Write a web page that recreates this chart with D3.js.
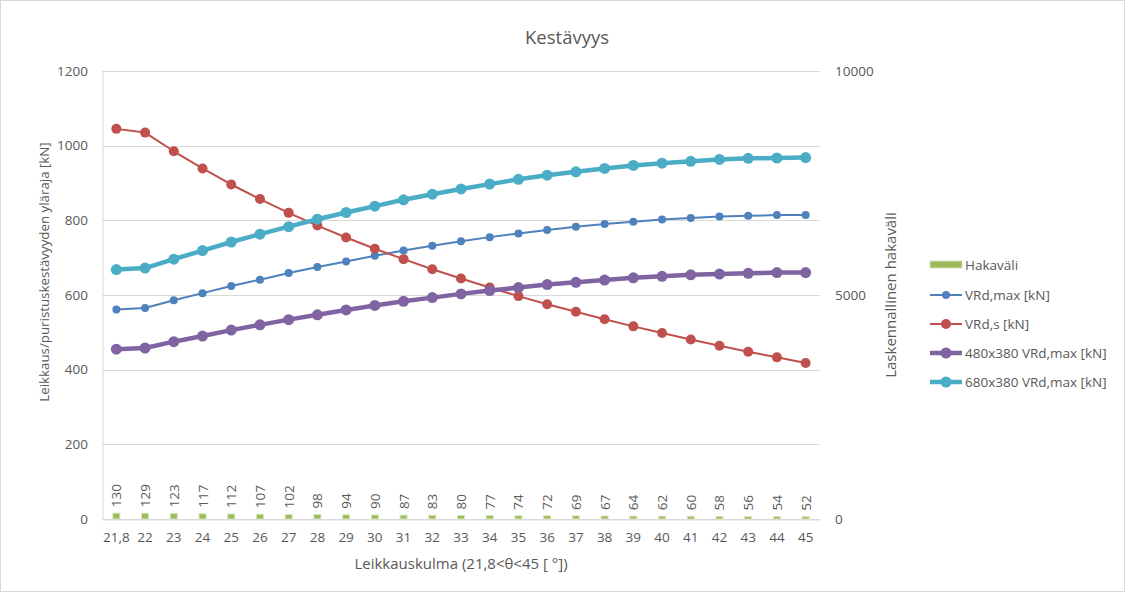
<!DOCTYPE html>
<html>
<head>
<meta charset="utf-8">
<script src="https://cdn.jsdelivr.net/npm/d3@7"></script>
<style>
  body { margin: 0; background: #fff; }
  text { font-family: "Open Sans", sans-serif; fill: #595959; }
</style>
</head>
<body>
<div class="chart"></div>
<script>
var categories = ["21,8", "22", "23", "24", "25", "26", "27", "28", "29", "30", "31", "32", "33",
  "34", "35", "36", "37", "38", "39", "40", "41", "42", "43", "44", "45"];
var hakavali = [130, 129, 123, 117, 112, 107, 102, 98, 94, 90, 87, 83, 80, 77, 74, 72, 69, 67, 64, 62, 60, 58, 56, 54, 52];
var vrdMax = [561, 565, 586, 605, 624, 641, 659, 675, 690, 705, 719, 732, 744, 755, 765, 774, 783, 790, 796, 802, 806, 810, 812, 814, 814];
var vrdS = [1045, 1035, 985, 939, 896, 857, 820, 786, 754, 724, 696, 669, 644, 620, 597, 575, 555, 535, 516, 498, 481, 464, 448, 433, 418];
var vrd480 = [455, 458, 475, 490, 506, 520, 534, 547, 560, 572, 583, 593, 603, 612, 620, 628, 634, 640, 646, 650, 654, 656, 658, 660, 660];
var vrd680 = [668, 672, 696, 719, 742, 763, 783, 803, 821, 838, 855, 870, 884, 897, 910, 921, 930, 939, 947, 953, 958, 963, 966, 967, 968];
var leftTicks = [0, 200, 400, 600, 800, 1000, 1200];
var rightTicks = [0, 5000, 10000];

var svgWidth = 1125;
var svgHeight = 592;
var margin = { top: 71, right: 305, bottom: 73, left: 102 };
var width = svgWidth - margin.left - margin.right;
var height = svgHeight - margin.top - margin.bottom;

var svg = d3.select(".chart")
  .append("svg")
  .attr("width", svgWidth)
  .attr("height", svgHeight);

svg.append("rect")
  .attr("x", 0.5).attr("y", 0.5)
  .attr("width", svgWidth - 1).attr("height", svgHeight - 1)
  .attr("fill", "#fff").attr("stroke", "#d9d9d9");

var chartGroup = svg.append("g")
  .attr("transform", `translate(${margin.left}, ${margin.top})`);

var x = d3.scaleBand().domain(categories).range([0, width]);
var yLeft = d3.scaleLinear().domain([0, 1200]).range([height, 0]);
var yRight = d3.scaleLinear().domain([0, 10000]).range([height, 0]);

// gridlines
chartGroup.append("g")
  .selectAll("line")
  .data(leftTicks)
  .enter()
  .append("line")
  .attr("x1", 0).attr("x2", width)
  .attr("y1", d => Math.round(yLeft(d)) + 0.5)
  .attr("y2", d => Math.round(yLeft(d)) + 0.5)
  .attr("stroke", "#d9d9d9");

// left axis
var leftAxis = chartGroup.append("g")
  .call(d3.axisLeft(yLeft).tickValues(leftTicks).tickFormat(d3.format("d")).tickSize(0).tickPadding(14));
leftAxis.select(".domain").attr("stroke", "#d9d9d9").attr("transform", "translate(0.5,0)");
leftAxis.selectAll("text").style("font-size", "13.5px").attr("fill", "#595959");

// right axis
var rightAxis = chartGroup.append("g")
  .attr("transform", `translate(${width}, 0)`)
  .call(d3.axisRight(yRight).tickValues(rightTicks).tickFormat(d3.format("d")).tickSize(0).tickPadding(15));
rightAxis.select(".domain").remove();
rightAxis.selectAll("text").style("font-size", "13.5px").attr("fill", "#595959");

// bottom axis
var bottomAxis = chartGroup.append("g")
  .attr("transform", `translate(0, ${height})`)
  .call(d3.axisBottom(x).tickSize(0).tickPadding(13));
bottomAxis.select(".domain").attr("stroke", "#d9d9d9").attr("transform", "translate(0,0.5)");
bottomAxis.selectAll("text").style("font-size", "13.5px").attr("fill", "#595959");

// bars (right axis)
var barW = 7;
chartGroup.selectAll(".bar")
  .data(hakavali)
  .enter()
  .append("rect")
  .attr("class", "bar")
  .attr("x", (d, i) => x(categories[i]) + x.bandwidth() / 2 - barW / 2)
  .attr("y", d => yRight(d))
  .attr("width", barW)
  .attr("height", d => height - yRight(d))
  .attr("fill", "#9bbb59")
  .attr("stroke", "#d7e4bd")
  .attr("stroke-width", 1);

chartGroup.selectAll(".barlabel")
  .data(hakavali)
  .enter()
  .append("text")
  .attr("class", "barlabel")
  .attr("transform", (d, i) => `translate(${x(categories[i]) + x.bandwidth() / 2 + 5}, ${yRight(d) - 6}) rotate(-90)`)
  .style("font-size", "13.5px")
  .attr("fill", "#404040")
  .text(d => d);

// lines
var seriesList = [
  { name: "VRd,max [kN]", values: vrdMax, color: "#4f81bd", lw: 2, r: 4 },
  { name: "VRd,s [kN]", values: vrdS, color: "#c0504d", lw: 2, r: 5 },
  { name: "480x380 VRd,max [kN]", values: vrd480, color: "#8064a2", lw: 4.5, r: 5.5 },
  { name: "680x380 VRd,max [kN]", values: vrd680, color: "#4bacc6", lw: 4.5, r: 5.5 }
];

var line = d3.line()
  .x((d, i) => x(categories[i]) + x.bandwidth() / 2)
  .y(d => yLeft(d));

seriesList.forEach(function(s) {
  var g = chartGroup.append("g");
  g.append("path")
    .datum(s.values)
    .attr("d", line)
    .attr("fill", "none")
    .attr("stroke", s.color)
    .attr("stroke-width", s.lw)
    .attr("stroke-linejoin", "round");
  g.selectAll("circle")
    .data(s.values)
    .enter()
    .append("circle")
    .attr("cx", (d, i) => x(categories[i]) + x.bandwidth() / 2)
    .attr("cy", d => yLeft(d))
    .attr("r", s.r)
    .attr("fill", s.color);
});

// title
svg.append("text")
  .attr("x", 567).attr("y", 44)
  .attr("text-anchor", "middle")
  .style("font-size", "18.5px")
  .text("Kestävyys");

// axis titles
svg.append("text")
  .attr("transform", "translate(49, 272) rotate(-90)")
  .attr("text-anchor", "middle")
  .style("font-size", "13.3px")
  .text("Leikkaus/puristuskestävyyden yläraja [kN]");

svg.append("text")
  .attr("transform", `translate(896, ${margin.top + height / 2}) rotate(-90)`)
  .attr("text-anchor", "middle")
  .style("font-size", "15px")
  .text("Laskennallinen hakaväli");

svg.append("text")
  .attr("x", margin.left + width / 2).attr("y", 569)
  .attr("text-anchor", "middle")
  .style("font-size", "15px")
  .text("Leikkauskulma (21,8<θ<45 [ °])");

// legend
var legend = svg.append("g").attr("transform", "translate(930, 0)");
var legendY = [265, 295, 324, 353, 382];
legend.append("rect")
  .attr("x", 0).attr("y", legendY[0] - 4)
  .attr("width", 32).attr("height", 7)
  .attr("fill", "#9bbb59").attr("stroke", "#d7e4bd");
legend.append("text")
  .attr("x", 35).attr("y", legendY[0] + 5)
  .style("font-size", "13.5px")
  .text("Hakaväli");
seriesList.forEach(function(s, i) {
  var yy = legendY[i + 1];
  legend.append("line")
    .attr("x1", 0).attr("x2", 32)
    .attr("y1", yy).attr("y2", yy)
    .attr("stroke", s.color).attr("stroke-width", s.lw);
  legend.append("circle")
    .attr("cx", 16).attr("cy", yy).attr("r", s.r)
    .attr("fill", s.color);
  legend.append("text")
    .attr("x", 35).attr("y", yy + 5)
    .style("font-size", "13.5px")
    .text(s.name);
});
</script>
</body>
</html>
